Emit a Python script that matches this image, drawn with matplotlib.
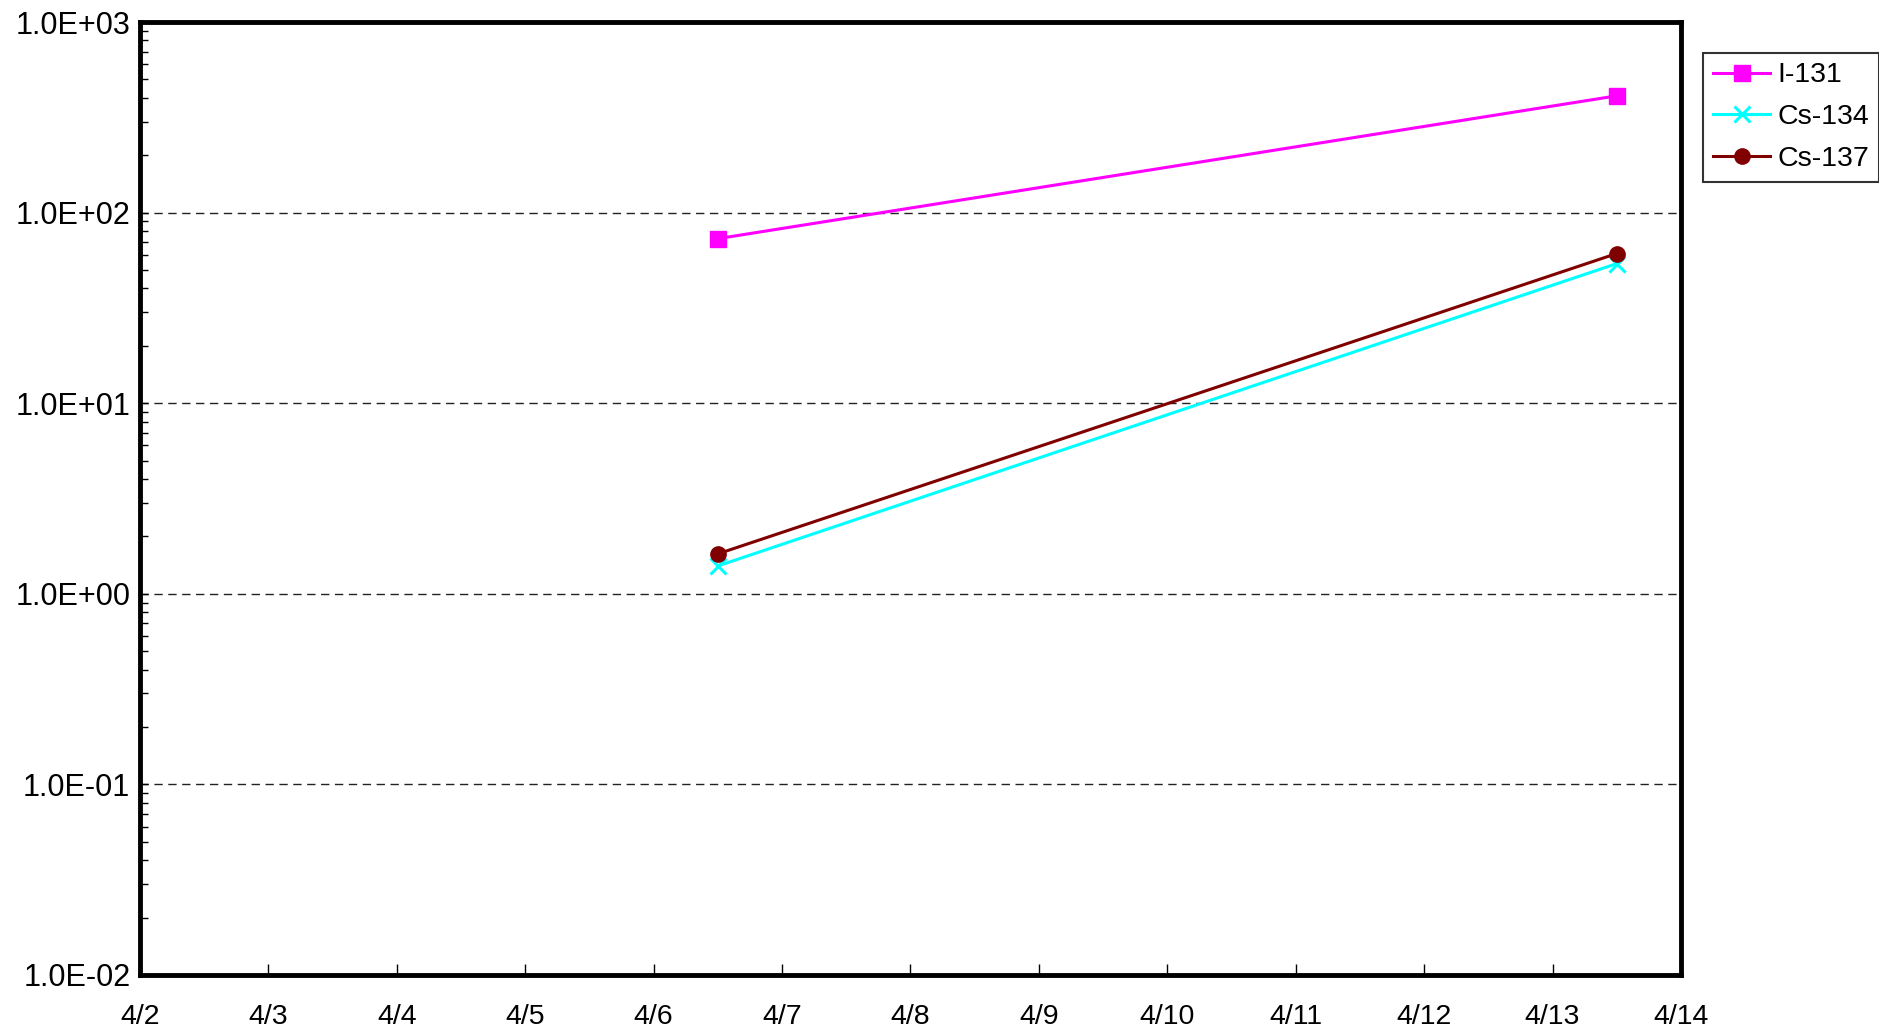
import math
import matplotlib
matplotlib.use("Agg")
import matplotlib.pyplot as plt
import matplotlib.ticker as mticker
from datetime import datetime

plt.rcParams['font.family'] = ['Liberation Sans', 'DejaVu Sans']

dates = [datetime(2011, 4, 6, 12), datetime(2011, 4, 13, 12)]
i131 = [73.0, 410.0]
cs134 = [1.40, 54.0]
cs137 = [1.62, 61.0]
series_names = ["I-131", "Cs-134", "Cs-137"]
tick_dates = [datetime(2011, 4, d) for d in range(2, 15)]
tick_labels = [f"4/{d}" for d in range(2, 15)]

fig = plt.figure(figsize=(18.79, 10.34), dpi=100)
ax = fig.add_axes([0.0745, 0.0571, 0.8201, 0.9216])

ax.plot(dates, i131, color='#FF00FF', lw=2.2, marker='s', ms=11, label=series_names[0])
ax.plot(dates, cs134, color='#00FFFF', lw=2.2, marker='x', ms=11, mew=2.2, label=series_names[1])
ax.plot(dates, cs137, color='#800000', lw=2.2, marker='o', ms=11, label=series_names[2])

ax.set_yscale('log')
ax.set_ylim(1e-2, 1e3)
ax.set_xlim(tick_dates[0], tick_dates[-1])
ax.set_xticks(tick_dates)
ax.set_xticklabels(tick_labels)

def fmt(v, pos):
    e = int(round(math.log10(v)))
    sign = '+' if e >= 0 else '-'
    return f"1.0E{sign}{abs(e):02d}"

ax.yaxis.set_major_locator(mticker.LogLocator(base=10, numticks=10))
ax.yaxis.set_major_formatter(mticker.FuncFormatter(fmt))
ax.yaxis.set_minor_locator(mticker.LogLocator(base=10, subs=range(2, 10), numticks=20))
ax.yaxis.set_minor_formatter(mticker.NullFormatter())

for v in [1e-1, 1e0, 1e1, 1e2]:
    ax.axhline(v, color='#222222', lw=1.0, ls=(0, (6, 4)), zorder=0)

for s in ax.spines.values():
    s.set_linewidth(3.5)
    s.set_color('black')

ax.tick_params(axis='y', which='major', direction='in', length=6, width=1, labelsize=22, pad=7)
ax.tick_params(axis='y', which='minor', direction='in', length=6, width=1)
ax.tick_params(axis='x', which='major', direction='in', length=8, width=1, labelsize=20.5, pad=21)

leg = ax.legend(loc='upper left', bbox_to_anchor=(1.0145, 0.968), fontsize=20.5,
                frameon=True, fancybox=False, edgecolor='black', handlelength=2.0,
                borderpad=0.35, labelspacing=0.55, handletextpad=0.25, borderaxespad=0)
leg.get_frame().set_linewidth(1.5)
for h in leg.legend_handles:
    h.set_markersize(11)

fig.savefig('out.png', dpi=100, facecolor='white')
